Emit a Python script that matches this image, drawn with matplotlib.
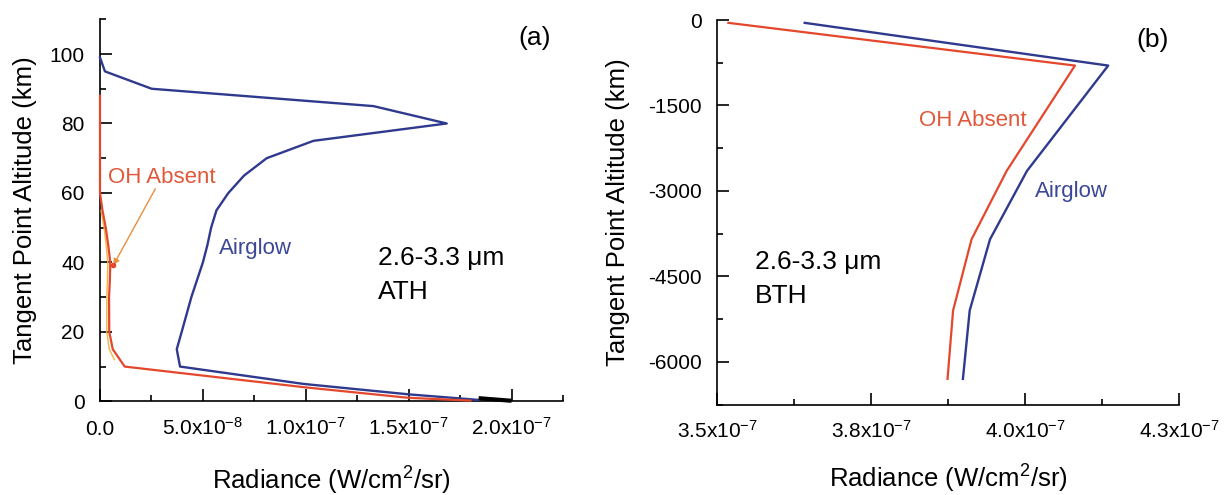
import matplotlib
matplotlib.use("Agg")
import matplotlib.pyplot as plt
from matplotlib.ticker import FixedLocator, FuncFormatter, NullFormatter

plt.rcParams['font.family'] = ['Liberation Sans', 'DejaVu Sans']
plt.rcParams['mathtext.fontset'] = 'custom'
plt.rcParams['mathtext.rm'] = 'Liberation Sans'
plt.rcParams['mathtext.it'] = 'Liberation Sans:italic'
plt.rcParams['mathtext.bf'] = 'Liberation Sans:bold'
plt.rcParams['axes.unicode_minus'] = False

# ---------------- Panel (a): above-the-horizon (ATH) ----------------
alt_a_airglow = [99, 95, 90, 85, 80, 75, 70, 65, 60, 55, 50, 45, 40, 30, 20, 15, 10, 5, 2, 0.4]
rad_a_airglow = [0.0, 0.24e-8, 2.51e-8, 13.29e-8, 16.85e-8, 10.37e-8, 8.1e-8, 7.0e-8,
                 6.24e-8, 5.66e-8, 5.4e-8, 5.22e-8, 5.0e-8, 4.44e-8, 3.97e-8, 3.73e-8,
                 3.89e-8, 9.9e-8, 15.0e-8, 18.4e-8]

alt_a_oh = [88, 60, 55, 50, 45, 40, 35, 30, 20, 15, 10, 4, 1, 0.2]
rad_a_oh = [0.0, 0.0, 0.12e-8, 0.28e-8, 0.4e-8, 0.5e-8, 0.48e-8, 0.44e-8, 0.45e-8,
            0.62e-8, 1.2e-8, 10.0e-8, 15.0e-8, 18.0e-8]

# faint companion trace lying just inside the OH-absent profile
alt_a_trace = [55, 50, 45, 40, 35, 30, 20, 15, 12]
rad_a_trace = [0.05e-8, 0.2e-8, 0.3e-8, 0.38e-8, 0.36e-8, 0.33e-8, 0.33e-8, 0.45e-8, 0.7e-8]

# near-ground total segment
alt_a_total = [0.9, 0.15]
rad_a_total = [1.84e-7, 2.0e-7]

xticks_a = [0.0, 5.0e-8, 1.0e-7, 1.5e-7, 2.0e-7]
xtick_labels_a = ['0.0', r'$\mathregular{5.0x10^{-8}}$', r'$\mathregular{1.0x10^{-7}}$',
                  r'$\mathregular{1.5x10^{-7}}$', r'$\mathregular{2.0x10^{-7}}$']
yticks_a = [0, 20, 40, 60, 80, 100]

# ---------------- Panel (b): below-the-horizon (BTH) ----------------
alt_b = [-50, -800, -2650, -3850, -5100, -6300]
rad_b_airglow = [3.642e-7, 4.135e-7, 4.003e-7, 3.943e-7, 3.910e-7, 3.899e-7]
rad_b_oh = [3.518e-7, 4.081e-7, 3.970e-7, 3.913e-7, 3.883e-7, 3.874e-7]

xticks_b = [3.5e-7, 3.75e-7, 4.0e-7, 4.25e-7]
xtick_labels_b = [r'$\mathregular{3.5x10^{-7}}$', r'$\mathregular{3.8x10^{-7}}$',
                  r'$\mathregular{4.0x10^{-7}}$', r'$\mathregular{4.3x10^{-7}}$']
yticks_b = [0, -1500, -3000, -4500, -6000]

BLUE = '#2f3a8e'
RED = '#e5472c'
ORANGE = '#e8903c'
TXT_RED = '#e0573a'
TXT_BLUE = '#3c4896'

W, H = 1228, 495
fig = plt.figure(figsize=(W / 100, H / 100), dpi=100)

ax_a = fig.add_axes([100 / W, (H - 401.3) / H, 463 / W, 382 / H])
ax_b = fig.add_axes([717.3 / W, (H - 404.5) / H, 461.7 / W, 384.5 / H])


def style_axes(ax):
    for s in ('top', 'right'):
        ax.spines[s].set_visible(False)
    for s in ('left', 'bottom'):
        ax.spines[s].set_linewidth(1.2)
    ax.tick_params(which='both', direction='in', width=1.2, colors='black')
    ax.tick_params(which='major', length=8.5)
    ax.tick_params(which='minor', length=4.5)
    ax.tick_params(axis='y', which='major', labelsize=15, pad=11)
    ax.tick_params(axis='x', which='major', labelsize=15, pad=24)


# ---- panel (a)
ax = ax_a
ax.plot(rad_a_airglow, alt_a_airglow, color=BLUE, lw=1.7, zorder=3, clip_on=False)
ax.plot(rad_a_trace, alt_a_trace, color='#f2b640', lw=1.0, zorder=3, clip_on=False)
ax.plot(rad_a_oh, alt_a_oh, color=RED, lw=1.6, zorder=4, clip_on=False)
ax.plot(rad_a_total, alt_a_total, color='black', lw=3, zorder=4, clip_on=False,
        solid_capstyle='butt')
ax.set_xlim(0, 2.25e-7)
ax.set_ylim(0, 110)
ax.xaxis.set_major_locator(FixedLocator(xticks_a))
ax.xaxis.set_minor_locator(FixedLocator([2.5e-8, 7.5e-8, 1.25e-7, 1.75e-7, 2.25e-7]))
ax.set_xticklabels(xtick_labels_a)
ax.xaxis.set_minor_formatter(NullFormatter())
ax.yaxis.set_major_locator(FixedLocator(yticks_a))
ax.yaxis.set_minor_locator(FixedLocator([10, 30, 50, 70, 90, 110]))
ax.yaxis.set_major_formatter(FuncFormatter(lambda v, p: '%d' % v))
style_axes(ax)
ax.set_ylabel('Tangent Point Altitude (km)', fontsize=18.5)
ax.yaxis.set_label_coords(-0.137, 0.5)
ax.set_xlabel('Radiance (W/cm$^2$/sr)', fontsize=18.5)
ax.xaxis.set_label_coords(0.5, -0.165)

ax.text(0.40e-8, 62.9, 'OH Absent', color=TXT_RED, fontsize=16, va='baseline', ha='left')
ax.annotate('', xy=(0.65e-8, 39.2), xytext=(2.69e-8, 61.2),
            arrowprops=dict(arrowstyle='-|>', color=ORANGE, lw=1.0, mutation_scale=9,
                            shrinkA=0, shrinkB=0))
ax.plot([0.65e-8], [39.2], marker='o', ms=3, color=RED, zorder=5)
ax.text(5.8e-8, 42.3, 'Airglow', color=TXT_BLUE, fontsize=16, va='baseline', ha='left')
ax.text(13.53e-8, 39.2, '2.6-3.3 \u03bcm', color='black', fontsize=19, va='baseline', ha='left')
ax.text(13.53e-8, 29.4, 'ATH', color='black', fontsize=19, va='baseline', ha='left')
ax.text(21.1e-8, 104.6, '(a)', color='black', fontsize=19, va='center', ha='center')

# ---- panel (b)
ax = ax_b
ax.plot(rad_b_airglow, alt_b, color=BLUE, lw=1.7, zorder=3)
ax.plot(rad_b_oh, alt_b, color=RED, lw=1.6, zorder=3)
ax.set_xlim(3.5e-7, 4.25e-7)
ax.set_ylim(-6750, 0)
ax.xaxis.set_major_locator(FixedLocator(xticks_b))
ax.xaxis.set_minor_locator(FixedLocator([3.625e-7, 3.875e-7, 4.125e-7]))
ax.set_xticklabels(xtick_labels_b)
ax.xaxis.set_minor_formatter(NullFormatter())
ax.yaxis.set_major_locator(FixedLocator(yticks_b))
ax.yaxis.set_minor_locator(FixedLocator([-750, -2250, -3750, -5250, -6750]))
ax.yaxis.set_major_formatter(FuncFormatter(lambda v, p: '%d' % v))
style_axes(ax)
ax.set_ylabel('Tangent Point Altitude (km)', fontsize=18.5)
ax.yaxis.set_label_coords(-0.189, 0.5)
ax.set_xlabel('Radiance (W/cm$^2$/sr)', fontsize=18.5)
ax.xaxis.set_label_coords(0.5, -0.152)

ax.text(3.828e-7, -1860, 'OH Absent', color=TXT_RED, fontsize=16, va='baseline', ha='left')
ax.text(4.016e-7, -3100, 'Airglow', color=TXT_BLUE, fontsize=16, va='baseline', ha='left')
ax.text(3.561e-7, -4374, '2.6-3.3 \u03bcm', color='black', fontsize=19, va='baseline', ha='left')
ax.text(3.561e-7, -4960, 'BTH', color='black', fontsize=19, va='baseline', ha='left')
ax.text(4.207e-7, -344, '(b)', color='black', fontsize=19, va='center', ha='center')

for a in (ax_a, ax_b):
    plt.setp(a.get_xticklabels(), va='baseline')

fig.savefig('out.png', dpi=100, facecolor='white')
